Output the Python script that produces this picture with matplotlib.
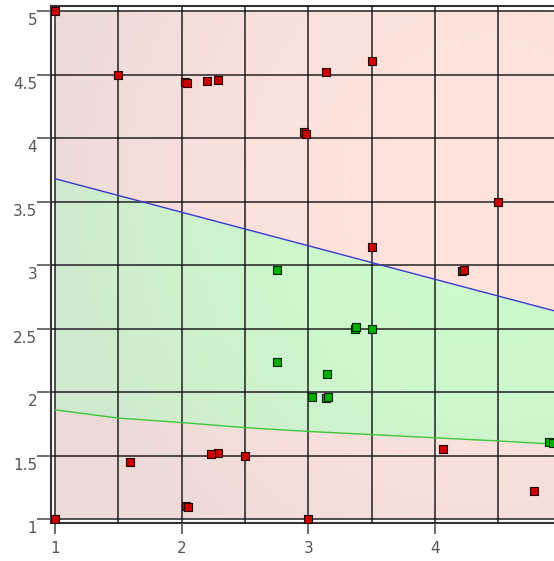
import numpy as np
import matplotlib
matplotlib.use("Agg")
import matplotlib.pyplot as plt
import matplotlib.transforms as mtransforms

# decision boundaries
blue_x = [1.0, 4.94]
blue_y = [3.68, 2.64]
green_x = [1.0, 1.5, 2.0, 2.5, 3.0, 3.5, 4.0, 4.5, 4.94]
green_y = [1.86, 1.795, 1.76, 1.72, 1.69, 1.665, 1.64, 1.615, 1.59]

# samples
red_x = [1.0, 1.5, 2.03, 2.045, 2.2, 2.29, 3.14, 3.5, 2.965, 2.98, 4.5, 3.5,
         4.21, 4.23, 1.59, 2.29, 2.235, 2.5, 2.035, 2.05, 1.0, 3.0, 4.06, 4.78]
red_y = [5.0, 4.5, 4.445, 4.435, 4.45, 4.46, 4.52, 4.61, 4.045, 4.035, 3.5,
         3.14, 2.955, 2.965, 1.45, 1.52, 1.51, 1.5, 1.105, 1.095, 1.0, 1.0,
         1.55, 1.22]
grn_x = [2.75, 2.75, 3.365, 3.375, 3.5, 3.15, 3.03, 3.14, 3.155, 4.9, 4.93]
grn_y = [2.96, 2.24, 2.5, 2.51, 2.5, 2.14, 1.96, 1.95, 1.96, 1.61, 1.6]

y_ticks = [1, 1.5, 2, 2.5, 3, 3.5, 4, 4.5, 5]
y_labels = ["1", "1.5", "2", "2.5", "3", "3.5", "4", "4.5", "5"]
x_ticks = [1, 2, 3, 4]
x_labels = ["1", "2", "3", "4"]

xmin, xmax = 0.968, 4.94
ymin, ymax = 0.969, 5.04

fig = plt.figure(figsize=(5.54, 5.61), dpi=100)
ax = fig.add_axes([51 / 554, 38 / 561, 503 / 554, 517 / 561])

# shaded class regions
gx = np.linspace(1, xmax, 500)
gy = np.linspace(1, 5, 500)
X, Y = np.meshgrid(gx, gy)
top = np.interp(X, blue_x, blue_y)
bot = np.interp(X, green_x, green_y)
inside = (Y < top) & (Y > bot)
red_c = np.array([1.0, 0.89, 0.865])
grn_c = np.array([0.80, 0.985, 0.80])
gray = np.array([0.84, 0.82, 0.82])
d2 = ((X - 4.4) / 3.4) ** 2 + ((Y - 3.6) / 3.6) ** 2
s = np.clip(0.45 * d2, 0, 0.45)[..., None]
base = np.where(inside[..., None], grn_c, red_c)
img = base * (1 - s) + gray * s
ax.imshow(img, extent=[1, xmax, 1, 5], origin="lower", aspect="auto",
          interpolation="bilinear", zorder=0)

ax.plot(blue_x, blue_y, color="#3a3ad0", lw=1.0, zorder=3)
ax.plot(green_x, green_y, color="#3cc83c", lw=1.0, zorder=3)

ax.scatter(red_x, red_y, marker="s", s=26, c="#c80000", edgecolors="#220000",
           linewidths=0.8, zorder=4)
ax.scatter(grn_x, grn_y, marker="s", s=26, c="#00b000", edgecolors="#002200",
           linewidths=0.8, zorder=4)

ax.set_xlim(xmin, xmax)
ax.set_ylim(ymin, ymax)
ax.set_xticks(x_ticks)
ax.set_xticklabels(x_labels)
ax.set_xticks([1.5, 2.5, 3.5, 4.5], minor=True)
ax.set_yticks(y_ticks)
ax.set_yticklabels(y_labels)
ax.tick_params(axis="x", which="major", length=8, width=1.2, color="#555555",
               labelcolor="#555555", labelsize=11, pad=5)
ax.tick_params(axis="x", which="minor", length=0)
ax.tick_params(axis="y", length=10, width=1.2, color="#555555",
               labelcolor="#555555", labelsize=11, pad=0)
ax.grid(which="both", color="#111111", alpha=0.85, lw=1.2, zorder=1)
ax.set_axisbelow(False)

shift = mtransforms.ScaledTranslation(0, -8 / 100, fig.dpi_scale_trans)
for lab in ax.get_yticklabels():
    lab.set_transform(lab.get_transform() + shift)

for side in ["left", "bottom", "top"]:
    ax.spines[side].set_color("#333333")
    ax.spines[side].set_linewidth(1.5)
ax.spines["right"].set_visible(False)

fig.savefig("out.png", dpi=100)
